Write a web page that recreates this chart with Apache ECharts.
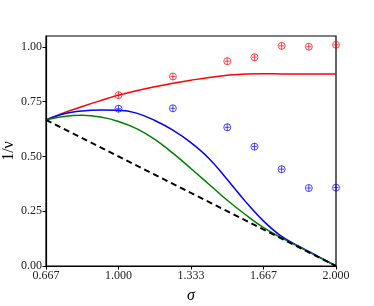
<!DOCTYPE html>
<html><head><meta charset="utf-8">
<script src="https://cdn.jsdelivr.net/npm/echarts@6/dist/echarts.min.js"></script>
<style>html,body{margin:0;padding:0;background:#fff}#c{width:374px;height:306px}</style>
</head><body><div id="c"></div>
<script>
// Data
const xTicks = [2/3, 1, 4/3, 5/3, 2];
const yTicks = [0, 0.25, 0.5, 0.75, 1.0];
const curveX = [2/3, 0.75, 0.833, 0.917, 1.0, 1.083, 1.167, 1.25, 1.333, 1.417, 1.5, 1.583, 1.667, 1.75, 1.833, 1.917, 2.0];
const redCurveY   = [0.667, 0.700, 0.728, 0.755, 0.780, 0.800, 0.818, 0.834, 0.848, 0.861, 0.871, 0.877, 0.878, 0.877, 0.877, 0.877, 0.877];
const blueCurveY  = [0.667, 0.695, 0.708, 0.712, 0.711, 0.698, 0.664, 0.620, 0.563, 0.490, 0.395, 0.295, 0.205, 0.135, 0.088, 0.044, 0.0];
const greenCurveY = [0.667, 0.683, 0.688, 0.680, 0.660, 0.627, 0.578, 0.515, 0.445, 0.372, 0.300, 0.235, 0.175, 0.128, 0.086, 0.043, 0.0];
const boundX = [2/3, 2.0];
const boundY = [2/3, 0.0];
const dataX = [1.0, 1.25, 1.5, 1.625, 1.75, 1.875, 2.0];
const redPts = [0.780, 0.865, 0.935, 0.953, 1.005, 1.001, 1.010];
const bluePts = [0.718, 0.720, 0.633, 0.545, 0.442, 0.356, 0.358];

const zip = (xs, ys) => xs.map((x, i) => [x, ys[i]]);
const serif = 'Liberation Serif';

function markerSeries(ys, color) {
  return {
    type: 'custom',
    data: zip(dataX, ys),
    clip: false,
    z: 5,
    renderItem: function (params, api) {
      const p = api.coord([api.value(0), api.value(1)]);
      const st = { stroke: color, lineWidth: 1, fill: 'none', opacity: 0.7 };
      return {
        type: 'group',
        children: [
          { type: 'circle', shape: { cx: p[0], cy: p[1], r: 3.5 }, style: st },
          { type: 'line', shape: { x1: p[0], y1: p[1] - 3.5, x2: p[0], y2: p[1] + 3.5 }, style: st },
          { type: 'line', shape: { x1: p[0] - 2.5, y1: p[1], x2: p[0] + 2.5, y2: p[1] }, style: st }
        ]
      };
    }
  };
}

const chart = echarts.init(document.getElementById('c'), null, { renderer: 'canvas' });
chart.setOption({
  animation: false,
  backgroundColor: '#fff',
  grid: { left: 46, right: 38, top: 36, bottom: 40, containLabel: false, outerBoundsMode: 'none', show: true, borderColor: '#000', borderWidth: 1.2, backgroundColor: 'transparent' },
  xAxis: {
    type: 'value', min: 2/3, max: 2,
    name: 'σ', nameLocation: 'middle', nameGap: 22, nameMoveOverlap: false,
    nameTextStyle: { fontFamily: serif, fontStyle: 'italic', fontSize: 16, color: '#000' },
    axisLine: { show: true, onZero: false, lineStyle: { color: '#000', width: 1.2 } },
    axisTick: { show: true, inside: false, length: 3.5, customValues: xTicks, lineStyle: { color: '#000' } },
    axisLabel: { customValues: xTicks, fontFamily: serif, fontSize: 12, color: '#222', margin: 4, formatter: v => v.toFixed(3) },
    splitLine: { show: false }
  },
  yAxis: {
    type: 'value', min: 0, max: 1.05,
    name: '1/ν', nameLocation: 'middle', nameGap: 29, nameRotate: 90, nameMoveOverlap: false,
    nameTextStyle: { fontFamily: serif, fontSize: 16, color: '#000' },
    axisLine: { show: true, onZero: false, lineStyle: { color: '#000', width: 1.2 } },
    axisTick: { show: true, inside: false, length: 3.5, customValues: yTicks, lineStyle: { color: '#000' } },
    axisLabel: { customValues: yTicks, fontFamily: serif, fontSize: 12, color: '#222', margin: 4, formatter: v => v.toFixed(2) },
    splitLine: { show: false }
  },
  series: [
    { type: 'line', data: zip(curveX, redCurveY), smooth: 0.4, showSymbol: false, lineStyle: { color: '#ff0000', width: 1.5 } },
    { type: 'line', data: zip(curveX, blueCurveY), smooth: 0.4, showSymbol: false, lineStyle: { color: '#0000ff', width: 1.5 } },
    { type: 'line', data: zip(curveX, greenCurveY), smooth: 0.4, showSymbol: false, lineStyle: { color: '#008000', width: 1.5 } },
    { type: 'line', data: zip(boundX, boundY), showSymbol: false, z: 4, lineStyle: { color: '#000', width: 2, type: [6, 4] } },
    markerSeries(redPts, '#ff0000'),
    markerSeries(bluePts, '#0000ff')
  ]
});
</script></body></html>
